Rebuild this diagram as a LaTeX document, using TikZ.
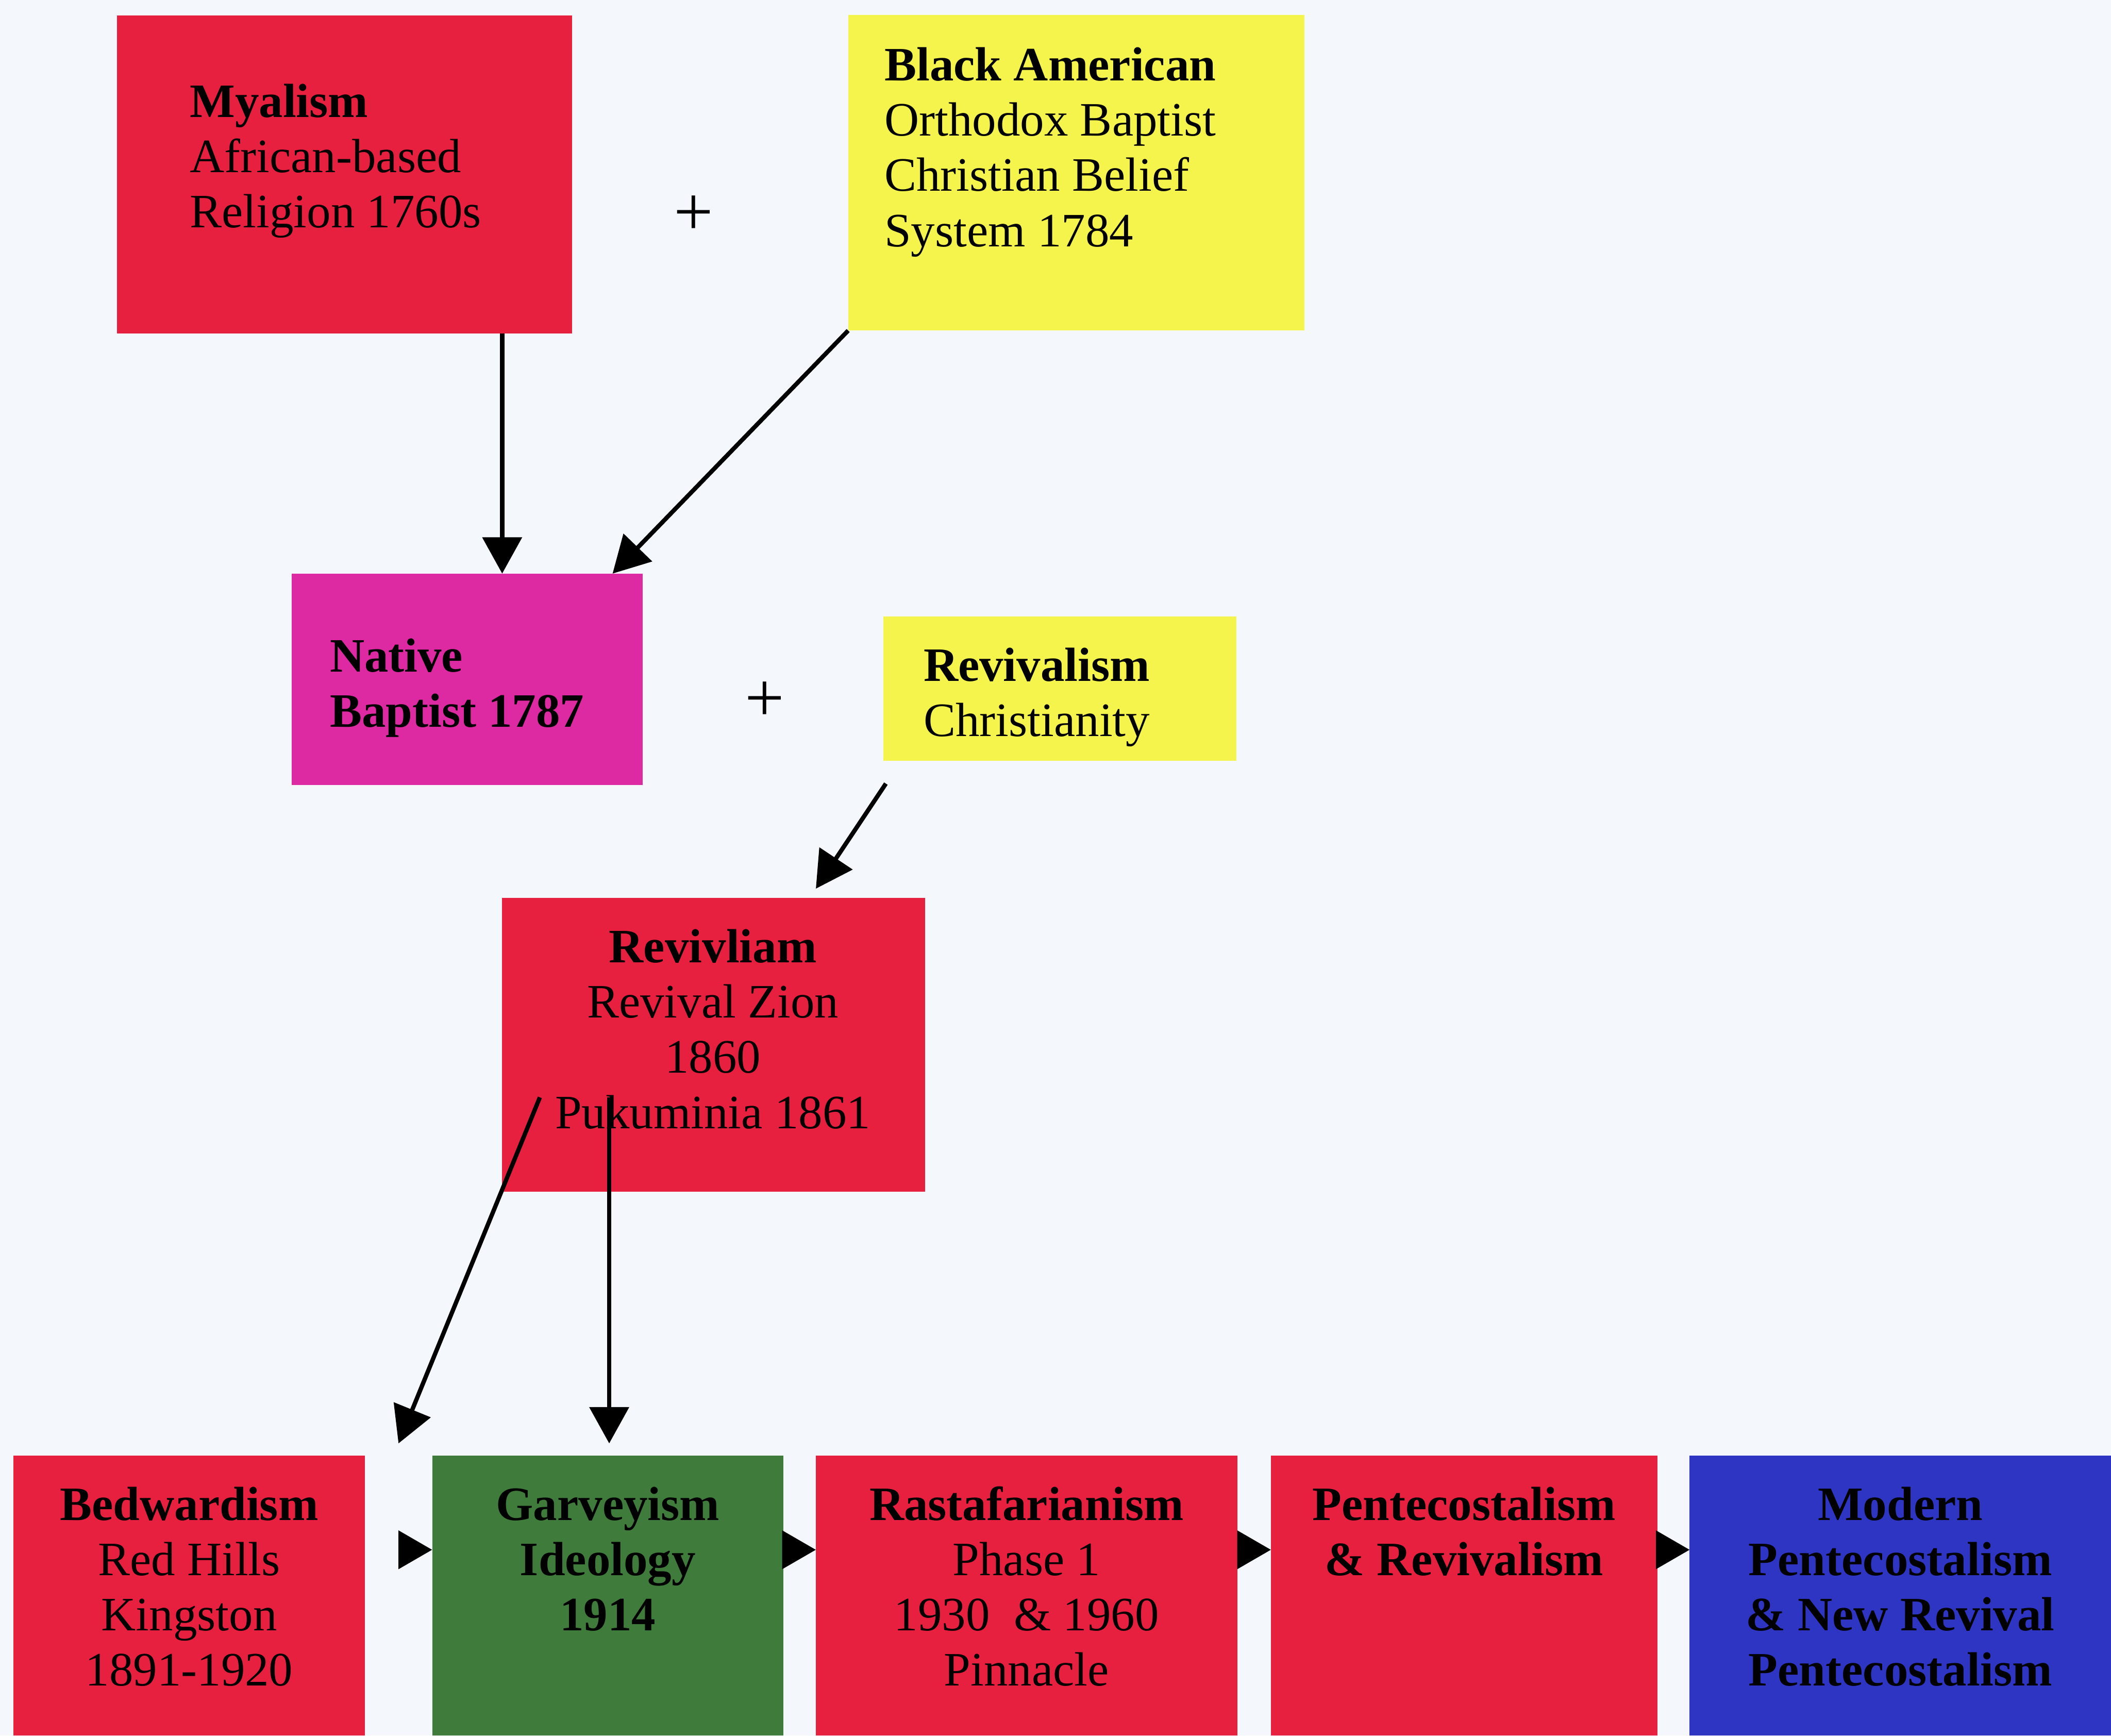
\documentclass[tikz,border=0pt]{standalone}
\usepackage{fontspec}
\setmainfont{Liberation Serif}
\usetikzlibrary{arrows.meta,calc}
\definecolor{bg}{HTML}{F4F7FC}
\definecolor{cred}{HTML}{E8203F}
\definecolor{cyel}{HTML}{F4F44C}
\definecolor{cmag}{HTML}{DD2AA2}
\definecolor{cgrn}{HTML}{3F7B3A}
\definecolor{cblu}{HTML}{2E35C3}
\begin{document}
\begin{tikzpicture}[x=0.5pt,y=-0.5pt,
  box/.style={rectangle, inner sep=0pt, outer sep=0pt, draw=none},
  txt/.style={inner sep=0pt, outer sep=0pt, font=\fontsize{17.8}{20.5}\selectfont, text=black},
  ltxt/.style={txt, anchor=north west, align=left},
  ctxt/.style={txt, anchor=north, align=center},
  plussign/.style={inner sep=0pt, outer sep=0pt, font=\fontsize{26}{30}\selectfont, text=black},
  arr/.style={line width=1.6pt, -{Triangle[length=13.5pt,width=14.5pt]}},
  sarr/.style={line width=1.6pt, -{Triangle[length=12.5pt,width=14pt]}}]
\useasboundingbox (0,0) rectangle (1568,1289);
\fill[bg] (0,0) rectangle (1568,1289);

% boxes
\node[box, fill=cred, minimum width=169pt, minimum height=118pt] (my) at (256,129.5) {};
\node[box, fill=cyel, minimum width=169.5pt, minimum height=117.25pt] (ba) at (799.5,128.25) {};
\node[box, fill=cmag, minimum width=130.5pt, minimum height=78.5pt] (nb) at (347,504.5) {};
\node[box, fill=cyel, minimum width=131.25pt, minimum height=53.5pt] (rv) at (787.25,511.5) {};
\node[box, fill=cred, minimum width=157pt, minimum height=109pt] (rz) at (530,776) {};
\node[box, fill=cred, minimum width=130.5pt, minimum height=104pt] (bw) at (140.5,1185) {};
\node[box, fill=cgrn, minimum width=130.5pt, minimum height=104pt] (gv) at (451.5,1185) {};
\node[box, fill=cred, minimum width=156.5pt, minimum height=104pt] (rs) at (762.5,1185) {};
\node[box, fill=cred, minimum width=143.5pt, minimum height=104pt] (pc) at (1087.5,1185) {};
\node[box, fill=cblu, minimum width=156.5pt, minimum height=104pt] (md) at (1411.5,1185) {};

% texts
\node[ltxt] (myt) at (141,58.3) {\strut\textbf{Myalism}\\African-based\\Religion 1760s};
\node[ltxt] (bat) at (657,31.3) {\strut\textbf{Black American}\\Orthodox Baptist\\Christian Belief\\System 1784};
\node[ltxt] (nbt) at (245,470.3) {\strut\textbf{Native}\\\textbf{Baptist 1787}};
\node[ltxt] (rvt) at (686,477.3) {\strut\textbf{Revivalism}\\Christianity};
\node[ctxt] (rzt) at (529.5,686.3) {\strut\textbf{Revivliam}\\Revival Zion\\1860\\Pukuminia 1861};
\node[ctxt] (bwt) at (140.5,1100.3) {\strut\textbf{Bedwardism}\\Red Hills\\Kingston\\1891-1920};
\node[ctxt] (gvt) at (451.5,1100.3) {\strut\textbf{Garveyism}\\\textbf{Ideology}\\\textbf{1914}};
\node[ctxt] (rst) at (762.5,1100.3) {\strut\textbf{Rastafarianism}\\Phase 1\\1930 \ \& 1960\\Pinnacle};
\node[ctxt] (pct) at (1087.5,1100.3) {\strut\textbf{Pentecostalism}\\\textbf{\& Revivalism}};
\node[ctxt] (mdt) at (1411.5,1100.3) {\strut\textbf{Modern}\\\textbf{Pentecostalism}\\\textbf{\& New Revival}\\\textbf{Pentecostalism}};

\node[plussign] (plus1) at (515,160) {+};
\node[plussign] (plus2) at (568,521) {+};

% connectors
\draw[arr] ($(my.south west)+(286,0)$) -- ($(nb.north west)+(156.5,0)$);
\draw[arr] (ba.south west) -- ($(nb.north west)+(238.5,0)$);
\draw[arr] ($(rv.south west)+(2,17)$) -- ($(rz.north west)+(233,-7)$);
\draw[arr] ($(rz.north west)+(28,148)$) -- ($(gv.north west)+(-25,-9)$);
\draw[arr] ($(rz.north west)+(79.5,148)$) -- ($(gv.north west)+(131.5,-9)$);

\draw[sarr, shorten <=13pt] ($(bw.east)+(0,-34)$) -- ($(gv.west)+(0,-34)$);
\draw[sarr] ($(gv.east)+(0,-34)$) -- ($(rs.west)+(0,-34)$);
\draw[sarr] ($(rs.east)+(0,-34)$) -- ($(pc.west)+(0,-34)$);
\draw[sarr] ($(pc.east)+(0,-34)$) -- ($(md.west)+(0,-34)$);
\end{tikzpicture}
\end{document}
